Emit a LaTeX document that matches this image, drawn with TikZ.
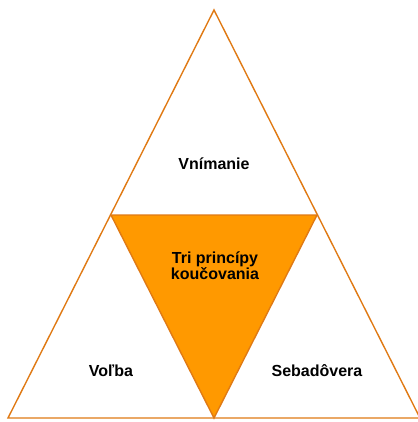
\documentclass[tikz,border=0pt]{standalone}
\usepackage{fontspec}
\setmainfont{Liberation Sans}
\definecolor{edge}{HTML}{E07A14}
\definecolor{fillor}{HTML}{FF9900}
\tikzset{
  tri/.style={draw=edge, line width=1.4pt, line join=miter},
  lbl/.style={font=\fontsize{16}{15}\selectfont\bfseries, align=center, inner sep=0pt}
}
\begin{document}
\begin{tikzpicture}[x=1pt,y=-1pt]
\useasboundingbox (0,0) rectangle (417,422);
\coordinate (top) at (214,10);
\coordinate (bl) at (8,418);
\coordinate (br) at (420,418);
\coordinate (ml) at (111,215);
\coordinate (mr) at (317,215);
\coordinate (bm) at (214,418);
\draw[tri, fill=white] (top) -- (br) -- (bl) -- cycle;
\draw[tri, fill=fillor] (ml) -- (mr) -- (bm) -- cycle;
\node[lbl] (v) at (214,164) {Vnímanie};
\node[lbl] (t) at (215,266) {Tri princípy\\koučovania};
\node[lbl] (l) at (111,371) {Voľba};
\node[lbl] (s) at (317,371) {Sebadôvera};
\end{tikzpicture}
\end{document}
